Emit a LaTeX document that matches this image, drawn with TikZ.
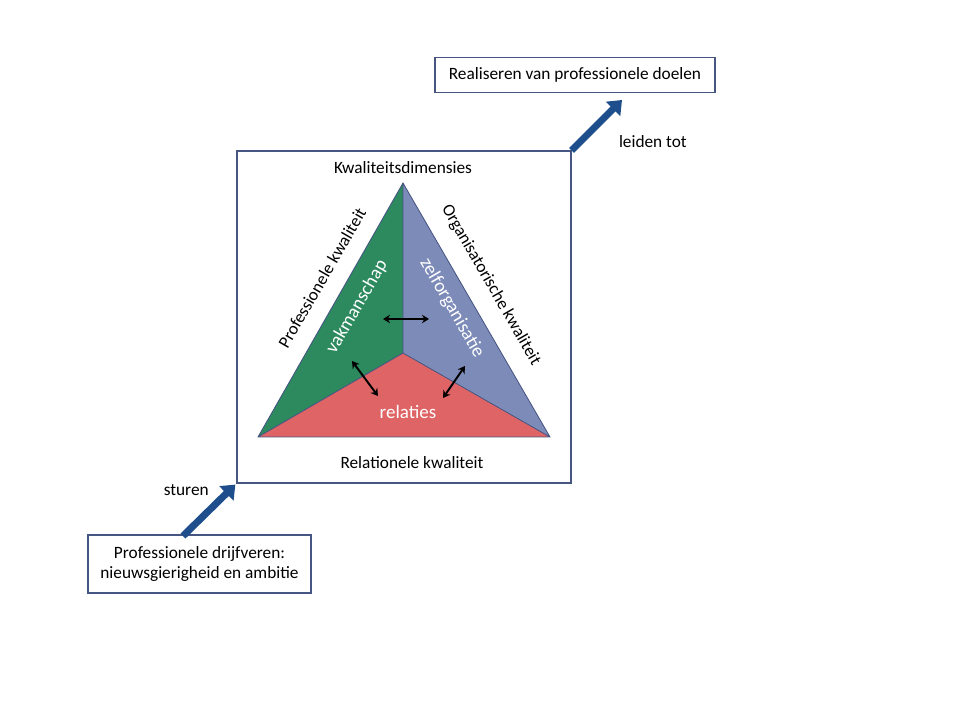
\documentclass[tikz,border=0pt]{standalone}
\usepackage{fontspec}
\setmainfont{Carlito}
\usetikzlibrary{arrows.meta,positioning}
\definecolor{vakgreen}{RGB}{44,138,94}
\definecolor{zelfblue}{RGB}{125,139,185}
\definecolor{relred}{RGB}{222,100,102}
\definecolor{boxline}{RGB}{70,85,130}
\definecolor{arrowblue}{RGB}{30,78,140}
\begin{document}
\begin{tikzpicture}[x=0.025cm,y=-0.025cm,font=\fontsize{12.3}{14.5}\selectfont,
    big arrow/.style={draw=arrowblue, line width=5pt, -{Triangle[width=14pt,length=9pt]}}]
      \tikzstyle{text box}=[draw=boxline,line width=0.8pt,align=center,inner sep=0pt]
      \tikzstyle{link}=[line width=1.4pt,{Stealth[length=5pt,width=6pt]}-{Stealth[length=5pt,width=6pt]}]
      \tikzstyle{inner label}=[text=white,font=\fontsize{13.5}{16}\selectfont]
      \useasboundingbox (0,0) rectangle (960,720);

      % boxes
      \node(0)[text box,minimum width=8.35cm,minimum height=8.3cm] at (404,317) {};
      \node(1)[text box,minimum width=7cm,minimum height=0.875cm] at (575,75) {Realiseren van professionele doelen};
      \node(2)[text box,minimum width=5.575cm,minimum height=1.45cm] at (199.5,564)
          {Professionele drijfveren:\\nieuwsgierigheid en ambitie};

      % triangle
      \coordinate (top) at (403,183);
      \coordinate (left) at (258,437);
      \coordinate (right) at (550,437);
      \coordinate (mid) at (403,353);
      \fill[vakgreen] (top) -- (left) -- (mid) -- cycle;
      \fill[zelfblue] (top) -- (mid) -- (right) -- cycle;
      \fill[relred] (left) -- (mid) -- (right) -- cycle;
      \draw[boxline,line width=0.6pt] (top) -- (left) -- (right) -- cycle (top) -- (mid) (left) -- (mid) -- (right);

      \node(kd) at (403,168) {Kwaliteitsdimensies};
      \node(rk) at (412,463) {Relationele kwaliteit};
      \node(pk)[rotate=60] at (322,278) {Professionele kwaliteit};
      \node(ok)[rotate=-60] at (491,285) {Organisatorische kwaliteit};
      \node(vak)[inner label,rotate=60] at (357,307) {vakmanschap};
      \node(zelf)[inner label,rotate=-60] at (452,308) {zelforganisatie};
      \node(rel)[inner label] at (408,412) {relaties};

      % links between the parts
      \coordinate (a1) at (383,319); \coordinate (a2) at (429,319);
      \coordinate (b1) at (352,361); \coordinate (b2) at (378,396);
      \coordinate (c1) at (465,366); \coordinate (c2) at (443,398);
      \draw[link] (a1) -- (a2);
      \draw[link] (b1) -- (b2);
      \draw[link] (c1) -- (c2);

      % blue arrows
      \coordinate (up) at (622,100);
      \coordinate (3) at (183,536);
      \draw[big arrow] (0.north east) -- (up) node[midway,right=3.5mm,yshift=-4mm]{leiden tot};
      \draw[big arrow,shorten >=1pt] (3) -- (0.south west) node[midway,above left,xshift=1.8mm,yshift=1.5mm]{sturen};
\end{tikzpicture}
\end{document}
